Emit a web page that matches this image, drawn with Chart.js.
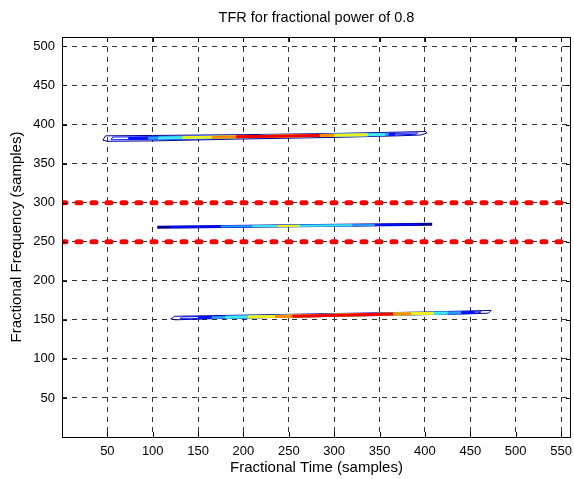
<!DOCTYPE html>
<html><head><meta charset="utf-8">
<script src="https://cdn.jsdelivr.net/npm/chart.js@4/dist/chart.umd.min.js"></script>
<style>html,body{margin:0;padding:0;background:#fff;}canvas{display:block;}</style>
</head><body>
<canvas id="c" width="574" height="479"></canvas>
<script>
// ---- axes ----
const xTicks = [50,100,150,200,250,300,350,400,450,500,550];
const yTicks = [50,100,150,200,250,300,350,400,450,500];
const xRange = [0, 561];
const yRange = [0, 512];
const titleText = 'TFR for fractional power of 0.8';
const xTitle = 'Fractional Time (samples)';
const yTitle = 'Fractional Frequency (samples)';

// ---- red dashed marker lines (frequency levels) ----
const markerLevels = [300, 250];

// ---- contour outlines [x, y] ----
const outlineA1 = [[45,380],[48,385.5],[100,386],[200,387],[300,388.5],[360,390],[401,391],[402,389],[395,386.5],[370,385.5],[300,383.5],[200,381.5],[100,379],[50,378.5],[45,380]];
const outlineA2 = [[54,380.5],[56,384],[120,384.5],[250,386.3],[350,388.2],[392,389.2],[390,387.5],[360,386.3],[300,384.6],[200,382.6],[120,380.8],[54,380.5]];
const outlineC1 = [[120,151],[124,154.5],[200,156],[300,158],[400,160],[473,162],[470,158.5],[440,157.5],[350,155.5],[250,153.3],[160,151.3],[125,150],[120,151]];
const outlineC2 = [[130,151.5],[132,153.8],[200,154.8],[300,156.8],[400,158.8],[462,160.3],[458,158.6],[400,157.2],[300,155],[200,152.8],[140,151.3],[130,151.5]];

// ---- contour level bands: [xStart, yStart, xEnd, yEnd, level] ----
const bandsA = [
  [73,382,367,387.6,2],
  [95,382.4,360,387.4,3],
  [106,382.7,356,387.2,4],
  [133,383.2,337,386.8,5],
  [165,383.7,300,386.1,6],
  [192,384.2,284,385.8,7]
];
const bandsB = [
  [105,268.5,408,272.2,1],
  [120,268.7,395,272,2],
  [175,269.3,345,271.4,3],
  [210,269.7,320,271.1,4],
  [238,270,262,270.3,5]
];
const bandsC = [
  [150,152.5,455,159.4,2],
  [165,152.8,440,159,3],
  [180,153.2,425,158.7,4],
  [205,153.7,410,158.3,5],
  [235,154.3,385,157.7,6],
  [254,154.7,365,157.3,7]
];

const levelColors = ['#000000','#00008f','#0010ff','#2c9cff','#40e8f0','#f0f020','#ff8c00','#f00000'];

const ds = [];
function addOutline(pts, color) {
  ds.push({data: pts.map(p=>({x:p[0],y:p[1]})), showLine:true, borderColor:color, borderWidth:1, pointRadius:0, fill:false, tension:0});
}
function addBands(bands, width) {
  bands.forEach(b => {
    ds.push({data:[{x:b[0],y:b[1]},{x:b[2],y:b[3]}], showLine:true, borderColor:levelColors[b[4]], borderWidth:(b[4]===1?3:width), pointRadius:0, fill:false, borderCapStyle:'butt'});
  });
}
addOutline(outlineA1, '#00008f');
addOutline(outlineA2, '#0010ff');
addBands(bandsA, 3);
addBands(bandsB, 2);
addOutline(outlineC1, '#00008f');
addOutline(outlineC2, '#0010ff');
addBands(bandsC, 3);
markerLevels.forEach(v => {
  ds.push({data:[{x:xRange[0],y:v},{x:xRange[1],y:v}], showLine:true, borderColor:'#ff0000', borderWidth:5, borderDash:[4,11], borderCapStyle:'round', pointRadius:0, fill:false});
});
ds.reverse(); // first dataset is painted on top

const framePlugin = {
  id:'frame',
  afterDatasetsDraw(chart) {
    const {ctx, chartArea:a, scales:{x, y}} = chart;
    ctx.save();
    ctx.strokeStyle = '#000';
    ctx.lineWidth = 1;
    ctx.strokeRect(Math.round(a.left)+0.5, Math.round(a.top)+0.5, Math.round(a.right-a.left)-1, Math.round(a.bottom-a.top));
    ctx.beginPath();
    xTicks.forEach(v => {
      const px = Math.round(x.getPixelForValue(v))+0.5;
      ctx.moveTo(px, a.bottom); ctx.lineTo(px, a.bottom-5);
      ctx.moveTo(px, a.top); ctx.lineTo(px, a.top+5);
    });
    yTicks.forEach(v => {
      const py = Math.round(y.getPixelForValue(v))+0.5;
      ctx.moveTo(a.left, py); ctx.lineTo(a.left+5, py);
      ctx.moveTo(a.right, py); ctx.lineTo(a.right-5, py);
    });
    ctx.stroke();
    ctx.restore();
  }
};

const fam = '"Liberation Sans", Arial, sans-serif';
const tickFont = {family:fam, size:13};
const labelFont = {family:fam, size:15};
new Chart(document.getElementById('c'), {
  type:'scatter',
  data:{datasets:ds},
  options:{
    responsive:false, animation:false, devicePixelRatio:1,
    layout:{padding:{left:0,right:3,top:0,bottom:0}},
    plugins:{
      legend:{display:false}, tooltip:{enabled:false},
      title:{display:true, fullSize:false, text:titleText, color:'#000', font:{family:fam, size:14.5, weight:'normal'}, padding:{top:9,bottom:10.6}}
    },
    scales:{
      x:{type:'linear', min:xRange[0], max:xRange[1],
        afterBuildTicks:s=>{s.ticks = xTicks.map(v=>({value:v}));},
        afterFit:s=>{s.height = 42; s.paddingLeft = 0; s.paddingRight = 0;},
        ticks:{color:'#000', font:tickFont, padding:7, maxRotation:0, autoSkip:false},
        grid:{color:'#333', lineWidth:1, drawTicks:false},
        border:{display:false, dash:[5,5]},
        title:{display:true, text:xTitle, color:'#000', font:labelFont, padding:{top:0,bottom:2}}
      },
      y:{type:'linear', min:yRange[0], max:yRange[1],
        afterBuildTicks:s=>{s.ticks = yTicks.map(v=>({value:v}));},
        afterFit:s=>{s.width = 62; s.paddingTop = 0; s.paddingBottom = 0;},
        ticks:{color:'#000', font:tickFont, padding:7, autoSkip:false},
        grid:{color:'#333', lineWidth:1, drawTicks:false},
        border:{display:false, dash:[5,5]},
        title:{display:true, text:yTitle, color:'#000', font:labelFont, padding:{top:8,bottom:0}}
      }
    }
  },
  plugins:[framePlugin]
});
</script>
</body></html>
